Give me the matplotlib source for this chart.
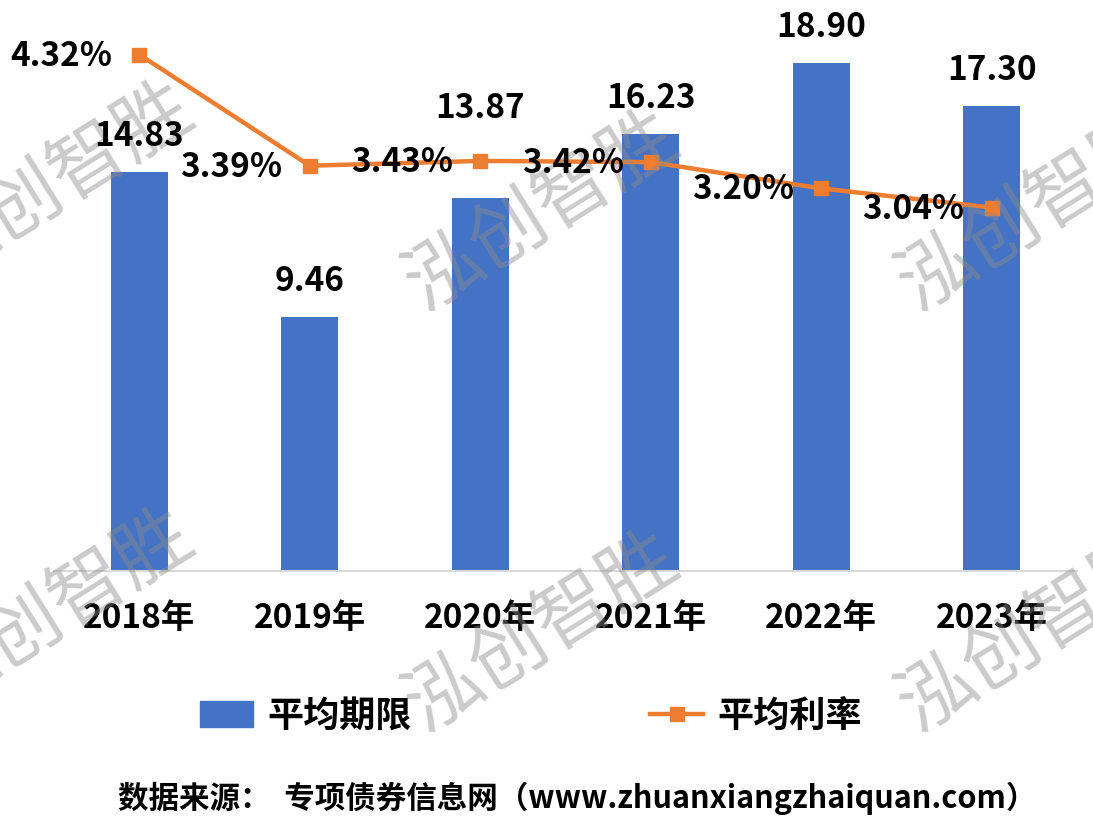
import matplotlib
matplotlib.use("Agg")
import matplotlib.pyplot as plt
from matplotlib.lines import Line2D
from matplotlib.patches import Patch

plt.rcParams['font.family'] = ['Noto Sans CJK SC', 'DejaVu Sans']

# data
years = ['2018年', '2019年', '2020年', '2021年', '2022年', '2023年']
avg_term = [14.83, 9.46, 13.87, 16.23, 18.90, 17.30]
avg_rate = [4.32, 3.39, 3.43, 3.42, 3.20, 3.04]
legend_labels = ['平均期限', '平均利率']
source_text = '数据来源：  专项债券信息网（www.zhuanxiangzhaiquan.com）'
watermark = '泓创智胜'

W, H = 1093, 831
BLUE = '#4472C4'
ORANGE = '#ED7D31'

fig = plt.figure(figsize=(W / 100, H / 100), dpi=100)
ax = fig.add_axes([54 / W, 1 - 571 / H, (1077 - 54) / W, (571 - 33) / H])

x = list(range(len(years)))
ax.bar(x, avg_term, width=0.335, color=BLUE, zorder=2)
ax.set_xlim(-0.5, len(years) - 0.5)
ax.set_ylim(0, 20)
ax.set_yticks([])
ax.set_xticks(x)
ax.set_xticklabels(years, fontsize=24, fontweight='bold')
ax.tick_params(axis='x', length=0, pad=22)
for side in ['top', 'left', 'right']:
    ax.spines[side].set_visible(False)
ax.spines['bottom'].set_color('#d9d9d9')
ax.spines['bottom'].set_linewidth(1.5)

ax2 = ax.twinx()
ax2.plot(x, avg_rate, color=ORANGE, lw=3.2, marker='s', ms=10, zorder=3)
ax2.set_ylim(0, 4.5)
ax2.set_yticks([])
for side in ['top', 'left', 'right', 'bottom']:
    ax2.spines[side].set_visible(False)

# watermark grid, above bars and line but under the value labels
for cx, cy in [(57, 183), (542, 212), (1035, 212),
               (57, 610), (542, 633), (1035, 633)]:
    ax2.text(cx / W, 1 - cy / H, watermark, transform=fig.transFigure,
             ha='center', va='center', rotation=32, rotation_mode='anchor',
             fontsize=55, color='#8c8c8c', alpha=0.45, zorder=4,
             clip_on=False)

# bar value labels (2020 label lifted above the line)
lift = {2: 80}
for i, v in enumerate(avg_term):
    ax2.annotate(f'{v:.2f}', (i, v), xycoords=ax.transData,
                 xytext=(0, lift.get(i, 26)), textcoords='offset pixels',
                 ha='center', va='baseline', fontsize=24, fontweight='bold',
                 zorder=5)

for i, v in enumerate(avg_rate):
    ax2.annotate(f'{v:.2f}%', (i, v), xytext=(-27, -11),
                 textcoords='offset pixels', ha='right', va='baseline',
                 fontsize=24, fontweight='bold', zorder=5)

handles = [Patch(color=BLUE),
           Line2D([0], [0], color=ORANGE, lw=3.2, marker='s', ms=10)]
fig.legend(handles, legend_labels, loc='center', ncol=2, frameon=False,
           bbox_to_anchor=(531 / W, 1 - 716 / H),
           prop={'size': 26, 'weight': 'bold'},
           handlelength=1.47, handletextpad=0.4, columnspacing=6.6)

fig.text(118 / W, 1 - 798 / H, source_text, ha='left', va='center',
         fontsize=22, fontweight='bold')

fig.savefig('out.png', dpi=100)
